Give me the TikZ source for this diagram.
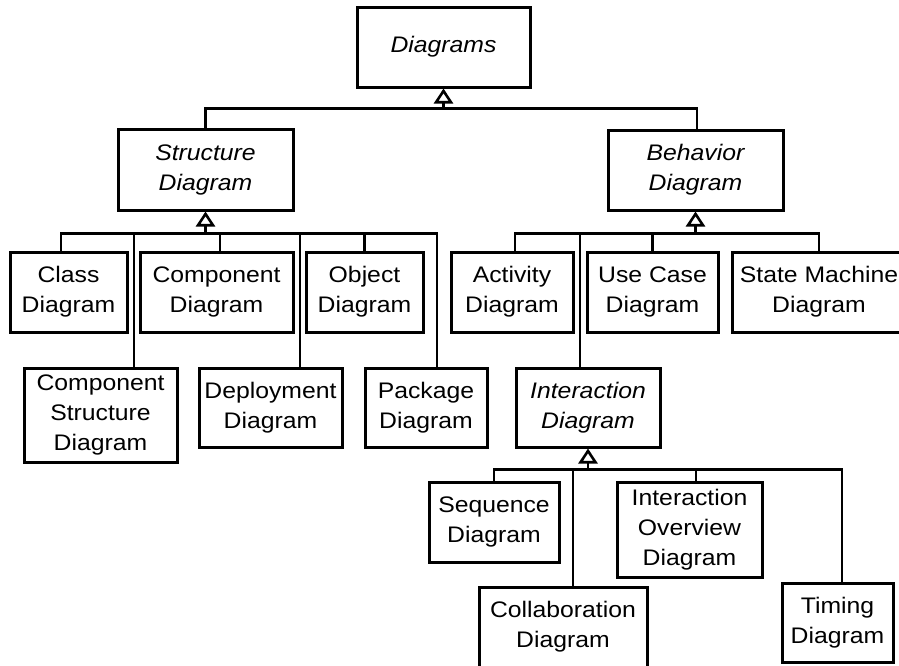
\documentclass[tikz,border=0pt]{standalone}
\usepackage{fontspec}
\setmainfont{Liberation Sans}[FakeStretch=1.1]
\usetikzlibrary{arrows.meta}

\begin{document}
\begin{tikzpicture}[x=1pt, y=-1pt,
  box/.style={draw, line width=3pt, inner sep=0pt, align=center,
    font=\fontsize{22.5}{30}\selectfont},
  abstractbox/.style={box, font=\fontsize{22.5}{30}\selectfont\itshape},
  link/.style={line width=2.8pt},
  gen/.style={link, -{Triangle[open, length=15pt, width=19pt, line width=2.6pt]}}
]
\useasboundingbox (0,0) rectangle (899,665);
\fill[white] (0,0) rectangle (899,665);

% top level
\node[abstractbox, minimum width=173pt, minimum height=80pt] (diag) at (443.5,47) {Diagrams};

% second level
\node[abstractbox, minimum width=175pt, minimum height=81pt] (struct) at (205.5,169.5) {Structure\\Diagram};
\node[abstractbox, minimum width=175pt, minimum height=80pt] (behav) at (695.5,170) {Behavior\\Diagram};

% structure diagrams
\node[box, minimum width=117pt, minimum height=80pt] (cls) at (68.5,292) {Class\\Diagram};
\node[box, minimum width=153pt, minimum height=80pt] (comp) at (216.5,292) {Component\\Diagram};
\node[box, minimum width=117pt, minimum height=80pt] (obj) at (364.5,292) {Object\\Diagram};
\node[box, minimum width=153pt, minimum height=94pt] (cs) at (100.5,415) {Component\\Structure\\Diagram};
\node[box, minimum width=143pt, minimum height=79pt] (dep) at (270.5,407.5) {Deployment\\Diagram};
\node[box, minimum width=122pt, minimum height=79pt] (pkg) at (426,407.5) {Package\\Diagram};

% behavior diagrams
\node[box, minimum width=122pt, minimum height=80pt] (act) at (512,292) {Activity\\Diagram};
\node[box, minimum width=131pt, minimum height=80pt] (uc) at (652.5,292) {Use Case\\Diagram};
\node[box, minimum width=174pt, minimum height=80pt] (sm) at (819,292) {State Machine\\Diagram};
\node[abstractbox, minimum width=144pt, minimum height=79pt] (inter) at (588,407.5) {Interaction\\Diagram};

% interaction diagrams
\node[box, minimum width=130pt, minimum height=80pt] (seq) at (494,522) {Sequence\\Diagram};
\node[box, minimum width=145pt, minimum height=95pt] (io) at (689.5,529.5) {Interaction\\Overview\\Diagram};
\node[box, minimum width=168pt, minimum height=80pt] (coll) at (563,627) {Collaboration\\Diagram};
\node[box, minimum width=111pt, minimum height=79pt] (tim) at (837.5,622.5) {Timing\\Diagram};

% bus junctions below each parent
\coordinate (tb) at ([yshift=-20pt]diag.south);
\coordinate (sb) at ([yshift=-22pt]struct.south);
\coordinate (bb) at ([yshift=-22pt]behav.south);
\coordinate (ib) at ([yshift=-21pt]inter.south);

% generalization: Diagrams
\draw[link] (struct.north) |- (tb);
\draw[link] ([xshift=1.5pt]behav.north) |- (tb);
\draw[gen] (tb) -- (diag.south);

% generalization: Structure Diagram
\draw[link] ([xshift=-7.5pt]cls.north) |- (sb);
\draw[link] ([xshift=33.5pt]cs.north) |- (sb);
\draw[link] ([xshift=3.5pt]comp.north) |- (sb);
\draw[link] ([xshift=29.5pt]dep.north) |- (sb);
\draw[link] (obj.north) |- (sb);
\draw[link] ([xshift=11pt]pkg.north) |- (sb);
\draw[gen] (sb) -- (struct.south);

% generalization: Behavior Diagram
\draw[link] ([xshift=3pt]act.north) |- (bb);
\draw[link] ([xshift=-8pt]inter.north) |- (bb);
\draw[link] (uc.north) |- (bb);
\draw[link] (sm.north) |- (bb);
\draw[gen] (bb) -- (behav.south);

% generalization: Interaction Diagram
\draw[link] (seq.north) |- (ib);
\draw[link] ([xshift=10pt]coll.north) |- (ib);
\draw[link] ([xshift=6.5pt]io.north) |- (ib);
\draw[link] ([xshift=4.5pt]tim.north) |- (ib);
\draw[gen] (ib) -- (inter.south);
\end{tikzpicture}
\end{document}
